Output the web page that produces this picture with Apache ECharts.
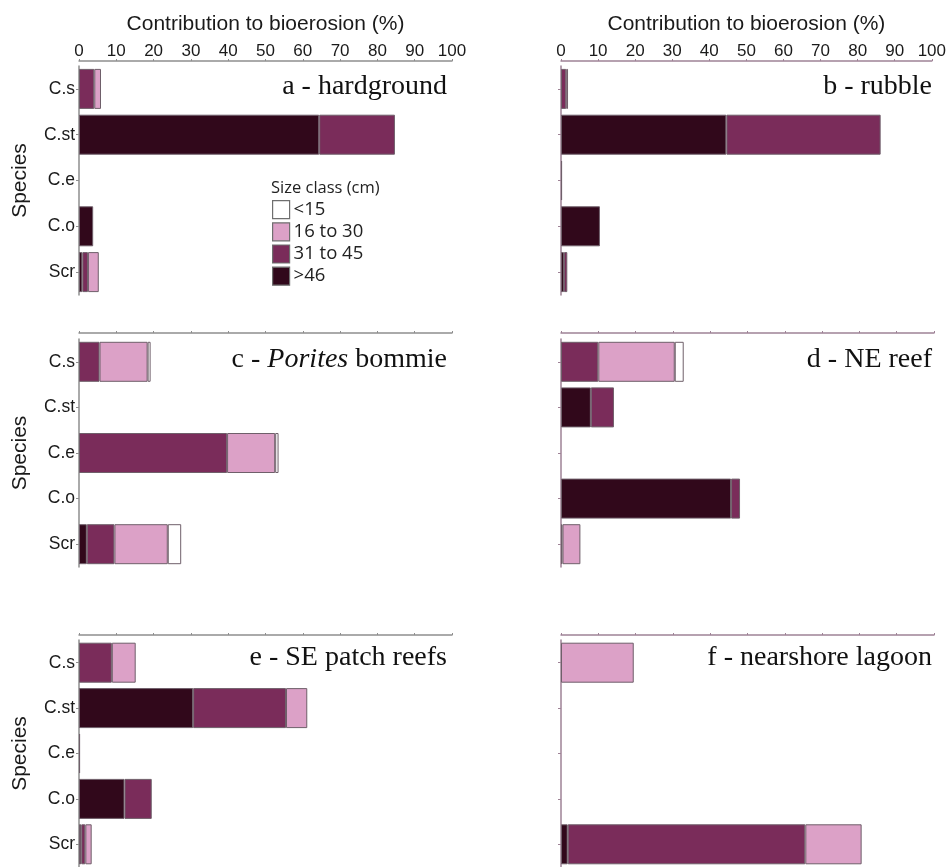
<!DOCTYPE html>
<html>
<head>
<meta charset="utf-8">
<script src="https://cdn.jsdelivr.net/npm/echarts@6/dist/echarts.min.js"></script>
<style>
  html, body { margin: 0; padding: 0; background: #fff; }
  #chart { width: 949px; height: 867px; }
</style>
</head>
<body>
<div id="chart"></div>
<script>
// Species (y categories) and size classes (stack order, left to right)
const species = ['C.s', 'C.st', 'C.e', 'C.o', 'Scr'];
const sizeClasses = ['>46', '31 to 45', '16 to 30', '<15'];
const legendOrder = ['<15', '16 to 30', '31 to 45', '>46'];
const xMin = 0, xMax = 100, xStep = 10;

// a - hardground
const hardgroundOver46  = [0, 64.4, 0, 3.8, 0.9];
const hardground31to45  = [4.1, 20.3, 0, 0, 1.5];
const hardground16to30  = [1.8, 0, 0, 0, 2.9];
const hardgroundUnder15 = [0, 0, 0, 0, 0];

// b - rubble
const rubbleOver46  = [0, 44.6, 0.3, 10.5, 0.8];
const rubble31to45  = [1.4, 41.6, 0, 0, 0.9];
const rubble16to30  = [0.5, 0, 0, 0, 0];
const rubbleUnder15 = [0, 0, 0, 0, 0];

// c - Porites bommie
const poritesOver46  = [0, 0, 0, 0, 2.1];
const porites31to45  = [5.5, 0, 39.7, 0, 7.4];
const porites16to30  = [12.9, 0, 12.9, 0, 14.3];
const poritesUnder15 = [0.8, 0, 0.9, 0, 3.6];

// d - NE reef
const neReefOver46  = [0, 8.0, 0, 45.6, 0];
const neReef31to45  = [10.0, 6.2, 0, 2.4, 0.4];
const neReef16to30  = [20.5, 0, 0, 0, 4.8];
const neReefUnder15 = [2.4, 0, 0, 0, 0];

// e - SE patch reefs
const sePatchOver46  = [0, 30.6, 0.3, 12.2, 0.6];
const sePatch31to45  = [8.8, 24.9, 0, 7.3, 1.1];
const sePatch16to30  = [6.4, 5.7, 0, 0, 1.7];
const sePatchUnder15 = [0, 0, 0, 0, 0];

// f - nearshore lagoon
const lagoonOver46  = [0, 0, 0, 0, 1.8];
const lagoon31to45  = [0, 0, 0, 0, 63.7];
const lagoon16to30  = [19.5, 0, 0, 0, 15.1];
const lagoonUnder15 = [0, 0, 0, 0, 0];

const sizeColors = { '>46': '#31081b', '31 to 45': '#7a2c5a', '16 to 30': '#dca1c7', '<15': '#ffffff' };

const SANS = 'Liberation Sans, Arial, sans-serif';
const SERIF = 'Liberation Serif, Times New Roman, serif';

const panels = [
  { title: 'a - hardground', stacks: [hardgroundOver46, hardground31to45, hardground16to30, hardgroundUnder15] },
  { title: 'b - rubble', stacks: [rubbleOver46, rubble31to45, rubble16to30, rubbleUnder15] },
  { title: '{n|c - }{i|Porites}{n| bommie}', stacks: [poritesOver46, porites31to45, porites16to30, poritesUnder15] },
  { title: 'd - NE reef', stacks: [neReefOver46, neReef31to45, neReef16to30, neReefUnder15] },
  { title: 'e - SE patch reefs', stacks: [sePatchOver46, sePatch31to45, sePatch16to30, sePatchUnder15] },
  { title: 'f - nearshore lagoon', stacks: [lagoonOver46, lagoon31to45, lagoon16to30, lagoonUnder15] }
];

// panel layout
const colLeft = [79, 561];
const plotWidth = 373;
const rowTop = [66, 339, 640];
const rowHeight = [229, 228, 229];
const axisOffset = [5, 6, 5];
const titleTop = [73, 346, 644];
const titleRight = [502, 17];
const axisColors = ['#8e8e8e', '#9e8296'];

const grids = [], xAxes = [], yAxes = [], series = [], titles = [];

panels.forEach((p, i) => {
  const col = i % 2, row = Math.floor(i / 2);
  const axisColor = axisColors[col];
  grids.push({ left: colLeft[col], top: rowTop[row], width: plotWidth, height: rowHeight[row] });
  xAxes.push({
    gridIndex: i, type: 'value', position: 'top', offset: axisOffset[row],
    min: xMin, max: xMax, interval: xStep,
    name: row === 0 ? 'Contribution to bioerosion (%)' : '',
    nameLocation: 'middle', nameGap: 26,
    nameTextStyle: { fontFamily: SANS, fontSize: 21, color: '#1a1a1a' },
    axisLine: { show: true, lineStyle: { color: axisColor, width: 1.5 } },
    axisTick: { show: true, length: 2, lineStyle: { color: axisColor } },
    axisLabel: { show: row === 0, margin: 1, fontFamily: SANS, fontSize: 17, color: '#1a1a1a' },
    splitLine: { show: false }
  });
  yAxes.push({
    gridIndex: i, type: 'category', data: species, inverse: true,
    name: col === 0 ? 'Species' : '',
    nameLocation: 'middle', nameRotate: 90, nameGap: 48,
    nameTextStyle: { fontFamily: SANS, fontSize: 21, color: '#1a1a1a' },
    axisLine: { show: true, lineStyle: { color: axisColor, width: 1.5 } },
    axisTick: { show: true, alignWithLabel: true, length: 3, lineStyle: { color: axisColor } },
    axisLabel: { show: col === 0, margin: 4, fontFamily: SANS, fontSize: 17.5, color: '#1a1a1a' }
  });
  p.stacks.forEach((vals, k) => {
    series.push({
      type: 'bar', name: sizeClasses[k], stack: 'site' + i,
      xAxisIndex: i, yAxisIndex: i, barWidth: 40,
      data: vals.map(v => (v > 0 ? v : '-')),
      itemStyle: { color: sizeColors[sizeClasses[k]], borderColor: '#6f5f6a', borderWidth: 1 },
      emphasis: { disabled: true }
    });
  });
  titles.push({
    text: p.title, right: titleRight[col], top: titleTop[row], padding: 0,
    textStyle: {
      fontFamily: SERIF, fontSize: 28, fontWeight: 'normal', color: '#111',
      rich: {
        n: { fontFamily: SERIF, fontSize: 28, color: '#111' },
        i: { fontFamily: SERIF, fontSize: 28, fontStyle: 'italic', color: '#111' }
      }
    }
  });
});

// legend heading
titles.push({
  text: 'Size class (cm)', left: 271, top: 180, padding: 0,
  textStyle: { fontFamily: 'Open Sans, sans-serif', fontSize: 16.5, fontWeight: 'normal', color: '#222' }
});

const chart = echarts.init(document.getElementById('chart'), null, { renderer: 'canvas' });
chart.setOption({
  animation: false,
  backgroundColor: '#ffffff',
  title: titles,
  legend: {
    data: legendOrder, orient: 'vertical', left: 272, top: 200, padding: 0,
    itemWidth: 17, itemHeight: 18, itemGap: 3, icon: 'rect', selectedMode: false,
    itemStyle: { borderColor: '#6f6f6f', borderWidth: 1.2 },
    textStyle: { fontFamily: 'Open Sans, sans-serif', fontSize: 18.5, color: '#222', padding: [0, 0, 0, -1] }
  },
  grid: grids,
  xAxis: xAxes,
  yAxis: yAxes,
  series: series
});
</script>
</body>
</html>
